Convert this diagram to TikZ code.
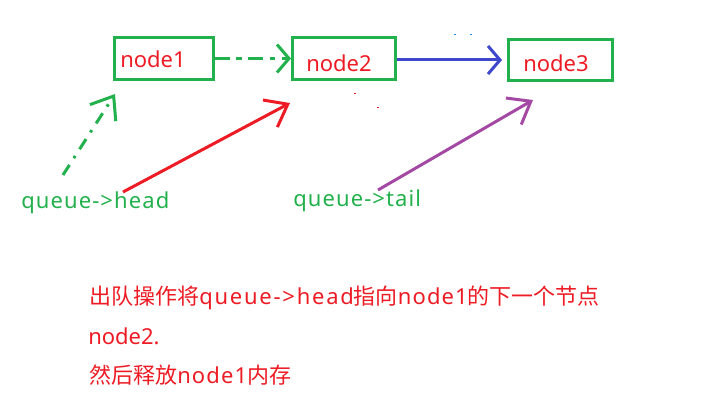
\documentclass[tikz,border=0pt]{standalone}
\usepackage{fontspec}
\setmainfont{Noto Sans}
\newfontfamily\cjk{Noto Sans CJK SC}
\newfontfamily\widelat[LetterSpace=5]{Noto Sans}
\newfontfamily\widerlat[LetterSpace=8]{Noto Sans}
\usetikzlibrary{arrows.meta}
\definecolor{pgreen}{HTML}{22B14C}
\definecolor{pred}{HTML}{ED1C24}
\definecolor{pblue}{HTML}{3F48CC}
\definecolor{ppurple}{HTML}{A349A4}
\begin{document}
\begin{tikzpicture}[x=0.75pt,y=-0.75pt,
  box/.style={draw=pgreen, line width=2.25pt, inner sep=0pt},
  txt/.style={font=\fontsize{16.5pt}{20pt}\selectfont, inner sep=0pt, anchor=base west},
  lbl/.style={txt, text=pred},
  ptr/.style={txt, text=pgreen, font=\widelat\fontsize{16.5pt}{20pt}\selectfont},
  note/.style={txt, text=pred},
  link/.style={line width=2.25pt},
  flat/.style={-{Straight Barb[length=9pt,width=21pt]}},
  steep/.style={-{Straight Barb[length=15pt,width=23pt]}},
  dot/.style={inner sep=0pt, minimum width=1.5pt, minimum height=0.75pt}
]
\useasboundingbox (0,0) rectangle (708,410);
% boxes
\node[box, minimum width=74.25pt, minimum height=31.5pt] (n1) at (164,58.5) {};
\node[box, minimum width=77.25pt, minimum height=31.5pt] (n2) at (344,58.5) {};
\node[box, minimum width=78pt, minimum height=30.75pt] (n3) at (560.5,60) {};
\node[lbl] (l1) at (120,68) {node1};
\node[lbl] (l2) at (306,72) {node2};
\node[lbl] (l3) at (523,72) {node3};
% pointer labels
\node[ptr] (qh) at (21,209) {queue->head};
\node[ptr] (qt) at (293,207) {queue->tail};
% free ends
\coordinate (gs) at (63,175);
\coordinate (ge) at (115,94);
\coordinate (rs) at (123,192);
\coordinate (re) at (290,103);
\coordinate (ps) at (378,190);
\coordinate (pe) at (533,100);
% links
\draw[link, pgreen, flat, dash pattern=on 11pt off 5pt on 4pt off 5pt] (n1.east) -- (n2.west);
\draw[link, pblue, flat, shorten >=3.75pt] (n2.east |- n3.west) -- (n3.west);
\draw[link, pgreen, steep, dash pattern=on 9pt off 6pt on 2pt off 6pt] (gs) -- (ge);
\draw[link, pred, steep] (rs) -- (re);
\draw[link, ppurple, steep] (ps) -- (pe);
% stray specks
\node[dot, fill=pblue!60!cyan] (s1) at (455,35) {};
\node[dot, fill=pblue!60!cyan] (s2) at (471,35) {};
\node[dot, fill=pred] (s3) at (355,94) {};
\node[dot, fill=pred] (s4) at (378,108) {};
% note
\node[note] (t1) at (89,305) {{\cjk 出队操作将}{\widerlat queue->head}{\cjk 指向}{\widelat node1}{\cjk 的下一个节点}};
\node[note] (t2) at (88,344) {node2.};
\node[note] (t3) at (89,383) {{\cjk 然后释放}{\widelat node1}{\cjk 内存}};
\end{tikzpicture}
\end{document}
